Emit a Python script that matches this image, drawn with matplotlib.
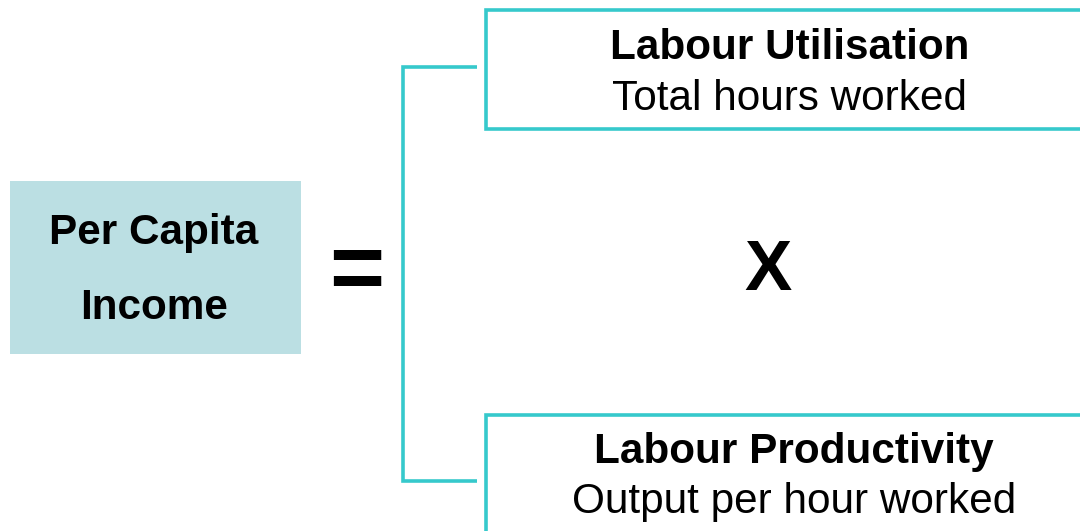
import matplotlib.pyplot as plt
from matplotlib.patches import Rectangle

# -- diagram content
lhs_lines = ['Per Capita', 'Income']
factor_titles = ['Labour Utilisation', 'Labour Productivity']
factor_subtitles = ['Total hours worked', 'Output per hour worked']

teal = '#36C9CC'
box_fill = '#BBDFE3'
font = 'Liberation Sans'
fs = 30.4

fig = plt.figure(figsize=(10.8, 5.31), dpi=100)
ax = fig.add_axes([0, 0, 1, 1])
ax.set_xlim(0, 1080)
ax.set_ylim(531, 0)
ax.axis('off')

# left box
ax.add_patch(Rectangle((10, 181), 291, 173, facecolor=box_fill, edgecolor='none'))
for txt, yb in zip(lhs_lines, [244, 319]):
    ax.text(154, yb, txt, ha='center', va='baseline', fontsize=fs,
            fontweight='bold', family=font)

# equals sign
ax.text(357, 274, '=', ha='center', va='center', fontsize=68,
        fontweight='bold', family=font)

# bracket
ax.plot([477, 403, 403, 477], [67, 67, 481, 481], color=teal, lw=2.6,
        solid_joinstyle='miter', solid_capstyle='butt')

# factor boxes
box_tops = [10, 415]
title_base = [59, 463]
sub_base = [110, 513]
centers = [790, 794]
for i in range(2):
    ax.add_patch(Rectangle((486, box_tops[i]), 700, 119, facecolor='white',
                           edgecolor=teal, lw=2.6, clip_on=True))
    ax.text(centers[i], title_base[i], factor_titles[i], ha='center',
            va='baseline', fontsize=fs, fontweight='bold', family=font)
    ax.text(centers[i], sub_base[i], factor_subtitles[i], ha='center',
            va='baseline', fontsize=fs, family=font)

# multiplication sign
ax.text(768, 290, 'X', ha='center', va='baseline', fontsize=51,
        fontweight='bold', family=font)

fig.savefig('out.png', dpi=100)
